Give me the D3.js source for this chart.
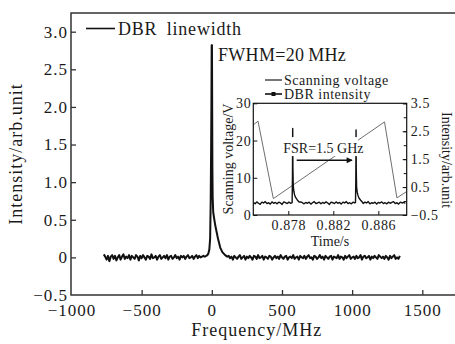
<!DOCTYPE html>
<html><head><meta charset="utf-8">
<script src="https://cdn.jsdelivr.net/npm/d3@7"></script>
<style>
body{margin:0;background:#fff}
svg{display:block}
svg text{font-family:"Liberation Serif","Times New Roman",Tinos,serif}
</style>
</head><body>
<svg id="c" width="455" height="344"></svg>
<script>
// ---------- DATA ----------
// main spectrum: left baseline (-770..-60 MHz, every 10 MHz)
const leftBaseStart = -770, baseStep = 10;
const leftBase = [0.04,0.01,-0.03,0.02,-0.05,0.01,0.03,-0.02,0.02,-0.04,0.00,0.03,-0.03,0.01,0.04,-0.02,0.01,-0.01,0.03,-0.03,
0.02,0.00,-0.02,0.03,0.01,-0.04,0.02,-0.01,0.03,0.00,-0.03,0.02,0.01,-0.02,0.04,-0.01,0.00,0.02,-0.03,0.01,
0.03,-0.02,0.00,0.02,-0.01,0.03,-0.03,0.01,0.02,-0.02,0.00,0.03,-0.01,0.01,-0.03,0.02,0.00,0.02,-0.02,0.01,
0.03,-0.01,0.00,0.02,-0.02,0.01,0.03,-0.01,0.02,0.00,0.01,0.02];
// peak region
const peakFreq = [-50,-40,-32,-25,-18,-12,-8,-5,-3,-1,0,1,2,4,6,10,18,25,35,45,60,75,95,110];
const peakVal  = [0.01,0.02,0.03,0.05,0.10,0.25,0.75,1.45,2.0,2.82,2.7,2.82,2.3,1.2,0.8,0.6,0.5,0.42,0.33,0.24,0.13,0.07,0.03,0.01];
// right baseline (120..1340 MHz, every 10 MHz)
const rightBaseStart = 120;
const rightBase = [0.02,-0.01,0.01,-0.03,0.02,0.00,-0.02,0.01,0.03,-0.02,
0.00,0.02,-0.03,0.01,-0.01,0.02,0.00,-0.03,0.02,0.01,
-0.02,0.03,-0.01,0.00,0.02,-0.03,0.01,0.00,-0.02,0.02,
0.01,-0.03,0.00,0.02,-0.01,0.01,-0.02,0.03,0.00,-0.02,
0.01,0.02,-0.03,0.00,0.01,-0.01,0.03,-0.02,0.00,0.01,
-0.03,0.02,0.00,-0.01,0.02,-0.02,0.01,0.03,-0.01,0.00,
-0.03,0.02,0.01,-0.02,0.00,0.03,-0.01,0.01,-0.03,0.02,
0.00,-0.02,0.01,0.02,-0.03,0.01,0.00,-0.01,0.03,-0.02,
0.01,0.00,-0.03,0.02,-0.01,0.01,0.03,-0.02,0.00,0.01,
-0.02,0.02,-0.01,0.00,0.03,-0.03,0.01,0.02,-0.01,0.00,
0.02,-0.03,0.01,-0.01,0.02,0.00,-0.02,0.03,0.01,-0.01,
0.01,-0.02,0.02,0.00,-0.03,0.02,-0.01,0.01,0.03,-0.02,
0.00,-0.02,0.02];

const xTicks = [-1000,-500,0,500,1000,1500];
const xTickLabels = ["\u22121000","\u2212500","0","500","1000","1500"];
const yTicks = [-0.5,0,0.5,1.0,1.5,2.0,2.5,3.0];
const yTickLabels = ["\u22120.5","0","0.5","1.0","1.5","2.0","2.5","3.0"];

// inset: scanning voltage (time s, volts)
const scanTime = [0.87489,0.87531,0.87667,0.88655,0.88765,0.88852];
const scanVolt = [24.2,25.2,4.4,25.0,4.6,6.3];
// inset: DBR intensity baseline (every 0.15 ms from 0.87490 s)
const insetBaseStart = 0.87490, insetStep = 0.00015;
const insetBase = [-0.05,-0.10,-0.03,-0.08,-0.12,-0.04,-0.07,-0.02,-0.09,-0.06,
-0.11,-0.03,-0.08,-0.05,-0.10,-0.04,-0.07,-0.12,-0.03,-0.06,
-0.09,-0.04,-0.08,-0.02,-0.07,-0.11,-0.05,-0.09,-0.03,-0.06,
-0.10,-0.05,-0.08,-0.04,-0.11,-0.06,-0.02,-0.09,-0.07,-0.04,
-0.10,-0.05,-0.08,-0.03,-0.07,-0.12,-0.04,-0.06,-0.09,-0.03,
-0.08,-0.05,-0.11,-0.04,-0.07,-0.02,-0.09,-0.06,-0.10,-0.04,
-0.07,-0.03,-0.08,-0.11,-0.05,-0.09,-0.04,-0.07,-0.02,-0.10,
-0.06,-0.08,-0.04,-0.11,-0.05,-0.07,-0.03,-0.09,-0.06,-0.10,
-0.04,-0.08,-0.05,-0.02,-0.09,-0.06,-0.11,-0.04,-0.07,-0.05,-0.08];
const peak1Time = [0.87834,0.87837,0.87839,0.87841,0.87844,0.87849,0.87856,0.87866,0.87880,0.87898];
const peak1Val  = [-0.06,0.9,2.6,1.2,0.55,0.35,0.22,0.12,0.04,-0.04];
const peak2Time = [0.88397,0.88400,0.88402,0.88404,0.88407,0.88412,0.88419,0.88429,0.88443,0.88461];
const peak2Val  = [-0.05,0.8,2.55,1.1,0.5,0.32,0.2,0.1,0.03,-0.05];

const insetXTicks = [0.878,0.882,0.886];
const insetLeftTicks = [0,10,20,30];
const insetRightTicks = [-0.5,0.5,1.5,2.5,3.5];
const insetRightMinor = [-0.5,0,0.5,1,1.5,2,2.5,3,3.5];

// ---------- BUILD ----------
const FONT = "'Liberation Serif','Times New Roman',Tinos,serif";
const svg = d3.select("#c").attr("font-family", FONT);
const ink = "#1a1a1a";

const x = d3.scaleLinear().domain([-1000,1500]).range([71.5,422.3]);
const y = d3.scaleLinear().domain([-0.5,3.0]).range([295,31.7]);
const plotTop = y(3.25), plotRight = 458;

const spec = [];
leftBase.forEach((v,i)=>spec.push([leftBaseStart+i*baseStep, v]));
peakFreq.forEach((f,i)=>spec.push([f, peakVal[i]]));
rightBase.forEach((v,i)=>spec.push([rightBaseStart+i*baseStep, v]));

svg.append("path")
  .attr("d", `M${plotRight},${plotTop}H${x(-1000)-0.5}V${y(-0.5)}H${plotRight}`)
  .attr("fill","none").attr("stroke","#333").attr("stroke-width",1.5);

function styleAxis(g, size, ls){
  g.attr("font-family", FONT).attr("font-size", null);
  g.select(".domain").remove();
  g.selectAll("line").attr("stroke","#333").attr("stroke-width",1.3);
  g.selectAll("text").attr("fill",ink).attr("font-size",size).attr("font-family",FONT).style("letter-spacing",ls);
}

const fmtX = d => xTickLabels[xTicks.indexOf(d)];
const fmtY = d => yTickLabels[yTicks.indexOf(d)];
const gx = svg.append("g").attr("transform",`translate(0,${y(-0.5)})`)
  .call(d3.axisBottom(x).tickValues(xTicks).tickFormat(fmtX).tickSizeInner(-5).tickSizeOuter(0).tickPadding(9));
const gy = svg.append("g").attr("transform",`translate(${x(-1000)-0.5},0)`)
  .call(d3.axisLeft(y).tickValues(yTicks).tickFormat(fmtY).tickSizeInner(-5).tickSizeOuter(0).tickPadding(3));
styleAxis(gx,17,"1px"); styleAxis(gy,17,"1px");
gx.selectAll(".tick").filter(d=>d===-1000).select("line").remove();
gy.selectAll(".tick").filter(d=>d===-0.5).select("line").remove();

svg.append("path").datum(spec)
  .attr("d", d3.line().x(d=>x(d[0])).y(d=>y(d[1])))
  .attr("fill","none").attr("stroke","#111").attr("stroke-width",2).attr("stroke-linejoin","round");

svg.append("text").attr("x",(x(-1000)+plotRight)/2 - 8).attr("y",336)
  .attr("text-anchor","middle").attr("font-size",18).attr("fill",ink).style("letter-spacing","1px")
  .text("Frequency/MHz");
svg.append("text").attr("transform",`translate(22,${(plotTop+y(-0.5))/2}) rotate(-90)`)
  .attr("text-anchor","middle").attr("font-size",18).attr("fill",ink).style("letter-spacing","1px")
  .text("Intensity/arb.unit");

svg.append("line").attr("x1",86).attr("x2",115).attr("y1",28.5).attr("y2",28.5)
  .attr("stroke","#111").attr("stroke-width",1.6);
svg.append("text").attr("x",118).attr("y",35).attr("font-size",18).attr("fill",ink)
  .style("letter-spacing","0.8px").style("word-spacing","4px").text("DBR linewidth");

svg.append("text").attr("x",218).attr("y",61).attr("font-size",18).attr("fill",ink)
  .style("letter-spacing","0.3px").text("FWHM=20\u2009MHz");

// ---------- INSET ----------
const xi = d3.scaleLinear().domain([0.87489,0.88852]).range([253.3,406.7]);
const yl = d3.scaleLinear().domain([0,30]).range([215,103.3]);
const yr = d3.scaleLinear().domain([-0.5,3.5]).range([215,103.3]);

svg.append("rect").attr("x",253.3).attr("y",103.3).attr("width",406.7-253.3).attr("height",215-103.3)
  .attr("fill","#fff").attr("stroke","none");

const scan = scanTime.map((t,i)=>[t, scanVolt[i]]);
svg.append("path").datum(scan)
  .attr("d", d3.line().x(d=>xi(d[0])).y(d=>yl(d[1])))
  .attr("fill","none").attr("stroke","#6e6e6e").attr("stroke-width",1);

const pk = [[peak1Time,peak1Val],[peak2Time,peak2Val]];
let inten = [];
insetBase.forEach((v,i)=>{
  const t = insetBaseStart + i*insetStep;
  const inPeak = pk.some(([ts])=> t>=ts[0] && t<=ts[ts.length-1]);
  if(!inPeak) inten.push([t,v]);
});
pk.forEach(([ts,vs])=>ts.forEach((t,i)=>inten.push([t,vs[i]])));
inten.sort((a,b)=>a[0]-b[0]);
svg.append("path").datum(inten)
  .attr("d", d3.line().x(d=>xi(d[0])).y(d=>yr(d[1])))
  .attr("fill","none").attr("stroke","#111").attr("stroke-width",1.4).attr("stroke-linejoin","round");

svg.append("rect").attr("x",xi(peak1Time[2])-3).attr("y",yr(2.29))
  .attr("width",xi(peak2Time[2])-xi(peak1Time[2])+5).attr("height",yr(1.61)-yr(2.29))
  .attr("fill","#fff");
svg.append("text").attr("x",(xi(peak1Time[2])+xi(peak2Time[2]))/2 - 1).attr("y",153)
  .attr("text-anchor","middle").attr("font-size",14).attr("fill",ink).text("FSR=1.5 GHz");

svg.append("defs").append("marker").attr("id","ah").attr("viewBox","0 0 10 10")
  .attr("refX",9).attr("refY",5).attr("markerWidth",8).attr("markerHeight",6)
  .attr("markerUnits","userSpaceOnUse").attr("orient","auto")
  .append("path").attr("d","M0,0L10,5L0,10Z").attr("fill","#111");
svg.append("line").attr("x1",xi(peak1Time[2])+4).attr("x2",xi(peak2Time[2])-4)
  .attr("y1",yr(1.46)).attr("y2",yr(1.46))
  .attr("stroke","#111").attr("stroke-width",1.3).attr("marker-end","url(#ah)");

svg.append("rect").attr("x",253.3).attr("y",103.3).attr("width",406.7-253.3).attr("height",215-103.3)
  .attr("fill","none").attr("stroke","#111").attr("stroke-width",1.2);

const gix = svg.append("g").attr("transform","translate(0,215)")
  .call(d3.axisBottom(xi).tickValues(insetXTicks).tickFormat(d3.format(".3f")).tickSizeInner(-4).tickSizeOuter(0).tickPadding(5));
const gil = svg.append("g").attr("transform","translate(253.3,0)")
  .call(d3.axisLeft(yl).tickValues(insetLeftTicks).tickFormat(d3.format("d")).tickSizeInner(-4).tickSizeOuter(0).tickPadding(2));
const gir = svg.append("g").attr("transform","translate(406.7,0)")
  .call(d3.axisRight(yr).tickValues(insetRightTicks).tickFormat(d=>d<0?"\u2212"+Math.abs(d).toFixed(1):d.toFixed(1)).tickSizeInner(-4).tickSizeOuter(0).tickPadding(4));
svg.append("g").attr("transform","translate(406.7,0)")
  .call(d3.axisRight(yr).tickValues(insetRightMinor).tickFormat("").tickSizeInner(-3).tickSizeOuter(0))
  .call(g=>{g.select(".domain").remove(); g.selectAll("line").attr("stroke","#111");});
[gix,gil,gir].forEach(g=>{ styleAxis(g,14,"0.6px"); g.selectAll("line").attr("stroke","#111").attr("stroke-width",1); });

svg.append("text").attr("x",(253.3+406.7)/2).attr("y",246).attr("text-anchor","middle")
  .attr("font-size",14).attr("fill",ink).text("Time/s");
svg.append("text").attr("transform","translate(233,159) rotate(-90)").attr("text-anchor","middle")
  .attr("font-size",14).attr("fill",ink).text("Scanning voltage/V");
svg.append("text").attr("transform","translate(442,160) rotate(90)").attr("text-anchor","middle")
  .attr("font-size",14).attr("fill",ink).text("Intensity/arb.unit");

svg.append("line").attr("x1",265).attr("x2",282).attr("y1",80).attr("y2",80)
  .attr("stroke","#777").attr("stroke-width",2);
svg.append("text").attr("x",284).attr("y",84.5).attr("font-size",14).attr("fill",ink)
  .style("letter-spacing","0.5px").text("Scanning voltage");
svg.append("line").attr("x1",265).attr("x2",282).attr("y1",94).attr("y2",94)
  .attr("stroke","#111").attr("stroke-width",1.6);
svg.append("rect").attr("x",271.5).attr("y",92).attr("width",4).attr("height",4).attr("fill","#111");
svg.append("text").attr("x",284).attr("y",99).attr("font-size",14).attr("fill",ink)
  .style("letter-spacing","0.5px").text("DBR intensity");
</script>
</body></html>
